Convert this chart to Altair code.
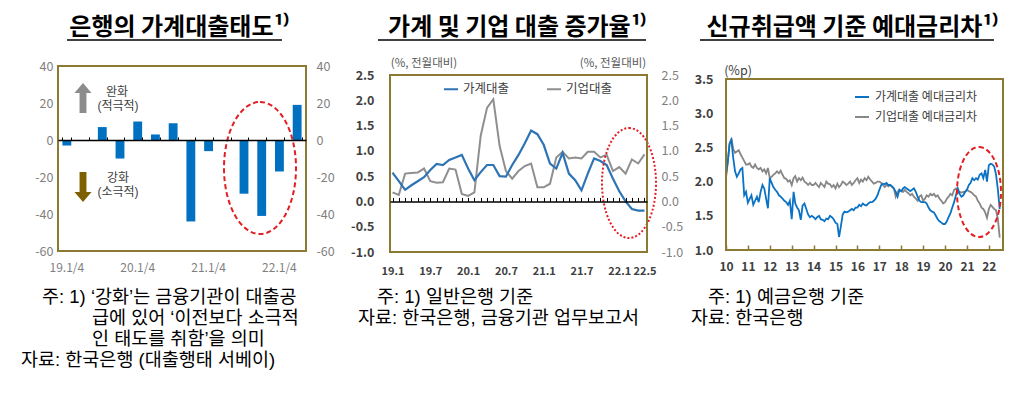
import altair as alt
import pandas as pd

FONT = "Noto Sans CJK KR"
NOTE_FONT = "Liberation Sans, Noto Sans CJK KR"
FRAME = "#8D7A32"
BAR_BLUE = "#0070C0"
BLUE2 = "#2E74B5"
GRAY2 = "#8F8F8F"
BLUE3 = "#0A72C4"
GRAY3 = "#878787"
RED = "#E31E24"
LBL = "#404040"
LBL_GRAY = "#7F7F7F"
H = 186
MINUS_FIX = "replace(datum.label, '\u2212', '-')"

# ---------------- Panel 1 data: 은행의 가계대출태도 ----------------
quarters = ["19.1/4", "19.2/4", "19.3/4", "19.4/4", "20.1/4", "20.2/4", "20.3/4",
            "20.4/4", "21.1/4", "21.2/4", "21.3/4", "21.4/4", "22.1/4", "22.2/4"]
attitude = [-3, 0, 7, -10, 10, 3, 9, -44, -6, 0, -29, -41, -17, 19]
q_ticks = ["19.1/4", "20.1/4", "21.1/4", "22.1/4"]
p1_yticks = [-60, -40, -20, 0, 20, 40]

# ---------------- Panel 2 data: 가계 및 기업 대출 증가율 ----------------
months2 = [f"{y}.{m}" for y in (19, 20, 21, 22) for m in range(1, 13)][:41]
household2 = [0.57, 0.40, 0.23, 0.32, 0.40, 0.48, 0.62, 0.74, 0.72, 0.82,
              0.87, 0.92, 0.65, 0.42, 0.58, 0.72, 0.72, 0.50, 0.49, 0.72,
              0.92, 1.15, 1.40, 1.33, 1.12, 0.75, 0.65, 0.96, 0.55, 0.42,
              0.22, 0.55, 0.85, 0.80, 0.72, 0.45, 0.20, 0.00, -0.15, -0.18,
              -0.18]
corporate2 = [0.18, 0.13, 0.55, 0.56, 0.57, 0.65, 0.40, 0.37, 0.38, 0.65,
              0.63, 0.15, 0.11, 0.18, 1.30, 1.85, 2.02, 1.10, 0.60, 0.45,
              0.60, 0.70, 0.75, 0.28, 0.28, 0.35, 0.87, 0.98, 0.85, 0.87,
              0.85, 0.98, 0.98, 0.87, 0.92, 0.60, 0.68, 0.55, 0.83, 0.75,
              0.93]
m2_ticks = ["19.1", "19.7", "20.1", "20.7", "21.1", "21.7", "22.1", "22.5"]
p2_yticks = [-1.0, -0.5, 0.0, 0.5, 1.0, 1.5, 2.0, 2.5]

# ---------------- Panel 3 data: 신규취급액 기준 예대금리차 ----------------
household3 = [
    2.10, 2.30, 2.55, 2.61, 2.35, 2.15, 2.07, 2.12, 2.18, 2.20, 1.80, 1.85,  # 2010
    1.69, 1.75, 1.80, 1.66, 1.72, 1.78, 1.70, 1.85, 1.95, 1.90, 1.75, 1.61,  # 2011
    2.05, 1.98, 1.92, 1.88, 1.85, 1.80, 1.78, 1.75, 1.72, 1.70, 1.66, 1.72,  # 2012
    1.45, 1.85, 1.68, 1.62, 1.58, 1.44, 1.65, 1.68, 1.60, 1.52, 1.48, 1.50,  # 2013
    1.48, 1.45, 1.48, 1.50, 1.45, 1.44, 1.42, 1.46, 1.45, 1.50, 1.48, 1.45,  # 2014
    1.40, 1.38, 1.19, 1.35, 1.52, 1.56, 1.55, 1.56, 1.58, 1.60, 1.58, 1.62,  # 2015
    1.62, 1.66, 1.64, 1.68, 1.66, 1.65, 1.68, 1.70, 1.70, 1.72, 1.75, 1.80,  # 2016
    1.88, 1.95, 1.97, 1.96, 1.98, 1.95, 1.95, 1.93, 1.90, 1.85, 1.78, 1.88,  # 2017
    1.86, 1.90, 1.92, 1.90, 1.88, 1.86, 1.88, 1.90, 1.85, 1.78, 1.72, 1.70,  # 2018
    1.70, 1.70, 1.68, 1.62, 1.58, 1.56, 1.55, 1.50, 1.45, 1.42, 1.40, 1.38,  # 2019
    1.38, 1.42, 1.48, 1.54, 1.62, 1.70, 1.80, 1.90, 1.82, 1.78, 1.80, 1.85,  # 2020
    1.88, 1.95, 1.98, 2.05, 2.02, 2.05, 2.03, 2.10, 2.12, 2.05, 2.17, 2.00,  # 2021
    2.24, 2.26, 2.25, 2.22, 2.10, 1.88, 1.60,                                # 2022
]
corporate3 = [
    2.05, 2.30, 2.55, 2.63, 2.48, 2.42, 2.44, 2.46, 2.40, 2.35, 2.30, 2.25,  # 2010
    2.25, 2.27, 2.22, 2.20, 2.25, 2.20, 2.18, 2.20, 2.15, 2.18, 2.12, 2.20,  # 2011
    2.05, 2.07, 2.10, 2.12, 2.15, 2.12, 2.16, 2.10, 2.05, 2.04, 2.00, 2.02,  # 2012
    1.95, 2.05, 2.08, 2.00, 2.05, 2.02, 2.06, 2.00, 1.98, 1.95, 1.98, 1.95,  # 2013
    1.95, 1.98, 1.95, 1.92, 1.98, 1.95, 1.92, 2.00, 1.97, 1.96, 1.92, 1.95,  # 2014
    1.90, 1.97, 1.92, 1.95, 2.00, 1.98, 1.95, 1.97, 2.00, 1.95, 1.98, 2.02,  # 2015
    2.05, 1.98, 2.03, 2.00, 2.05, 2.02, 2.07, 2.03, 2.00, 1.97, 1.98, 2.00,  # 2016
    2.00, 1.98, 1.95, 1.92, 1.95, 1.93, 1.95, 1.92, 1.90, 1.78, 1.85, 1.88,  # 2017
    1.86, 1.85, 1.88, 1.85, 1.83, 1.80, 1.82, 1.78, 1.75, 1.72, 1.78, 1.80,  # 2018
    1.72, 1.75, 1.80, 1.78, 1.82, 1.80, 1.82, 1.78, 1.80, 1.75, 1.72, 1.68,  # 2019
    1.70, 1.75, 1.78, 1.82, 1.80, 1.88, 1.90, 1.83, 1.85, 1.84, 1.85, 1.85,  # 2020
    1.88, 1.86, 1.85, 1.83, 1.80, 1.78, 1.72, 1.68, 1.62, 1.60, 1.55, 1.47,  # 2021
    1.60, 1.66, 1.63, 1.60, 1.58, 1.45, 1.18,                                # 2022
]
years3 = list(range(2010, 2023))
p3_yticks = [1.0, 1.5, 2.0, 2.5, 3.0, 3.5]

dates3 = [f"{2010 + i // 12}/{i % 12 + 1:02d}/01" for i in range(len(household3))]

dummy = pd.DataFrame({"d": [0]})


def txt(text, x, y, size, color="#000000", weight="normal", align="center",
        baseline="middle", font=FONT):
    return alt.Chart(dummy).mark_text(
        text=text, font=font, fontSize=size, color=color, fontWeight=weight,
        align=align, baseline=baseline
    ).encode(x=alt.value(x), y=alt.value(y))


def uline(x1, x2, y):
    return alt.Chart(dummy).mark_rule(color="black", strokeWidth=1.5).encode(
        x=alt.value(x1), x2=alt.value(x2), y=alt.value(y))


def ellipse(cx, cy, w, h, dash):
    a = w / h
    k = 0.5523
    path = (f"M 0 -1 C {k*a:.4f} -1 {a:.4f} {-k} {a:.4f} 0 "
            f"C {a:.4f} {k} {k*a:.4f} 1 0 1 "
            f"C {-k*a:.4f} 1 {-a:.4f} {k} {-a:.4f} 0 "
            f"C {-a:.4f} {-k} {-k*a:.4f} -1 0 -1 Z")
    return alt.Chart(dummy).mark_point(
        shape=path, size=h * h, filled=False, stroke=RED, strokeWidth=2,
        strokeDash=dash, opacity=1
    ).encode(x=alt.value(cx), y=alt.value(cy))


UP = "M 0 -1 L 0.57 -0.33 L 0.23 -0.33 L 0.23 1 L -0.23 1 L -0.23 -0.33 L -0.57 -0.33 Z"
DOWN = "M 0 1 L 0.57 0.33 L 0.23 0.33 L 0.23 -1 L -0.23 -1 L -0.23 0.33 L -0.57 0.33 Z"


def arrow(shape, x, y, color):
    return alt.Chart(dummy).mark_point(
        shape=shape, size=900, filled=True, color=color, opacity=1, strokeWidth=0
    ).encode(x=alt.value(x), y=alt.value(y))


def frame(w, top, bottom):
    return alt.Chart(dummy).mark_rect(
        fill="transparent", stroke=FRAME, strokeWidth=2
    ).encode(x=alt.value(0), x2=alt.value(w),
             y=alt.YDatum(top, axis=None), y2=alt.Y2Datum(bottom))


def note(text, x, y):
    return txt(text, x, y, NOTE_SIZE, "#000000", align="left", font=NOTE_FONT)


TITLE_SIZE = 24
TITLE_Y = -31
ULINE_Y = -26
NOTE_SIZE = 18.5
NOTE_Y = [231, 252, 273, 294]

# ======================= Panel 1 =======================
W1, W1F = 253, 248
df1 = pd.DataFrame({"q": quarters, "v": attitude})
x1_scale = alt.Scale(range=[0, W1F], paddingInner=0.5, paddingOuter=0.25)
y1_scale = alt.Scale(domain=[-60.5, 40], nice=False, zero=False)

bars = alt.Chart(df1).mark_bar(color=BAR_BLUE).encode(
    x=alt.X("q:N", sort=quarters, scale=x1_scale,
            axis=alt.Axis(values=q_ticks, title=None, labelAngle=0, ticks=False,
                          tickSize=0, domain=False, labelPadding=10,
                          labelColor=LBL_GRAY, labelFont=FONT, labelFontSize=12)),
    y=alt.Y("v:Q", scale=y1_scale,
            axis=alt.Axis(values=p1_yticks, orient="left", title=None, ticks=False,
                          tickSize=0, domain=False, grid=False, labelPadding=5,
                          labelExpr=MINUS_FIX,
                          labelColor=LBL_GRAY, labelFont=FONT, labelFontSize=12.5)),
)
axis1 = alt.Chart(df1).mark_bar(opacity=0).encode(
    x=alt.X("q:N", sort=quarters, scale=x1_scale,
            axis=alt.Axis(orient="top", offset=-H * 40 / 100.5, labels=False,
                          title=None, tickBand="extent", tickSize=3,
                          tickColor="black", domainColor="black", domainWidth=1.5,
                          tickWidth=1, zindex=1)),
    y=alt.Y("v:Q", scale=y1_scale,
            axis=alt.Axis(values=p1_yticks, orient="right", title=None, ticks=False,
                          tickSize=0, domain=False, grid=False, labelPadding=5,
                          labelExpr=MINUS_FIX,
                          labelColor=LBL_GRAY, labelFont=FONT, labelFontSize=12.5)),
)

panel1 = alt.layer(
    bars, axis1,
    arrow(UP, 25, 32, "#8C8C8C"),
    arrow(DOWN, 25, 121, "#7F6000"),
    txt("완화", 59, 26, 12, LBL, font=NOTE_FONT),
    txt("(적극적)", 60, 40, 12, LBL, font=NOTE_FONT),
    txt("강화", 60, 112, 12, LBL, font=NOTE_FONT),
    txt("(소극적)", 60, 126, 12, LBL, font=NOTE_FONT),
    ellipse(202, 102, 72, 132, [5, 3]),
    frame(W1F, 40, -60),
    txt("은행의 가계대출태도¹⁾", 121, TITLE_Y, TITLE_SIZE, "#000000", "bold", baseline="alphabetic"),
    uline(9, 224, ULINE_Y),
    note("주: 1) ‘강화’는 금융기관이 대출공", -16, NOTE_Y[0]),
    note("급에 있어 ‘이전보다 소극적", 34, NOTE_Y[1]),
    note("인 태도를 취함’을 의미", 34, NOTE_Y[2]),
    note("자료: 한국은행 (대출행태 서베이)", -37, NOTE_Y[3]),
).resolve_axis(x="independent", y="independent").properties(width=W1, height=H)

# ======================= Panel 2 =======================
W2 = 257
P2_TOP = 2.5 + 9 * 3.5 / 177
df2_h = pd.DataFrame({"m": months2, "v": household2, "s": "가계대출"})
df2_c = pd.DataFrame({"m": months2, "v": corporate2, "s": "기업대출"})
x2_scale = alt.Scale(padding=0.4)
y2_scale = alt.Scale(domain=[-1.0, P2_TOP], nice=False, zero=False)
col2 = alt.Color("s:N", scale=alt.Scale(domain=["가계대출", "기업대출"], range=[BLUE2, GRAY2]),
                 legend=alt.Legend(orient="none", legendX=53, legendY=15,
                                   direction="horizontal", title=None,
                                   symbolType="stroke", symbolStrokeWidth=2,
                                   symbolSize=196, labelFont=FONT, labelFontSize=12.5,
                                   labelColor=LBL, columnPadding=33, labelOffset=4,
                                   padding=0))
x2_bottom = alt.X("m:O", sort=months2, scale=x2_scale,
                  axis=alt.Axis(values=m2_ticks, title=None, labelAngle=0, ticks=False,
                                tickSize=0, domain=False, labelPadding=13,
                                labelColor=LBL, labelFont=FONT, labelFontSize=11,
                                labelFontWeight="bold"))
y2_left = alt.Y("v:Q", scale=y2_scale,
                axis=alt.Axis(values=p2_yticks, format=".1f", orient="left", title=None,
                              ticks=False, tickSize=0, domain=False, grid=False,
                              labelExpr=MINUS_FIX,
                              labelPadding=16, labelColor=LBL, labelFont=FONT,
                              labelFontSize=12.5, labelFontWeight="bold"))

line2_c = alt.Chart(df2_c).mark_line(strokeWidth=2).encode(x=x2_bottom, y=y2_left, color=col2)
line2_h = alt.Chart(df2_h).mark_line(strokeWidth=2.2).encode(
    x=alt.X("m:O", sort=months2, scale=x2_scale, axis=None),
    y=alt.Y("v:Q", scale=y2_scale, axis=None), color=col2)
axis2 = alt.Chart(df2_h).mark_line(opacity=0).encode(
    x=alt.X("m:O", sort=months2, scale=x2_scale,
            axis=alt.Axis(orient="top", offset=-H * P2_TOP / (P2_TOP + 1.0), labels=False,
                          title=None, tickSize=4, tickColor="black", tickWidth=1,
                          domainColor="black", domainWidth=1.5, zindex=1)),
    y=alt.Y("v:Q", scale=y2_scale,
            axis=alt.Axis(values=p2_yticks, format=".1f", orient="right", title=None,
                          ticks=False, tickSize=0, domain=False, grid=False,
                          labelExpr=MINUS_FIX,
                          labelPadding=14, labelColor=LBL_GRAY, labelFont=FONT,
                          labelFontSize=12.5)),
)

panel2 = alt.layer(
    axis2, line2_c, line2_h,
    txt("(%, 전월대비)", 34, -2, 11.5, "#595959"),
    txt("(%, 전월대비)", 223, -2, 11.5, "#595959"),
    ellipse(239, 117, 54, 110, [2, 2]),
    frame(W2, 2.5, -1.0),
    txt("가계 및 기업 대출 증가율¹⁾", 127, TITLE_Y, TITLE_SIZE, "#000000", "bold", baseline="alphabetic"),
    uline(-12, 256, ULINE_Y),
    note("주: 1) 일반은행 기준", -13, NOTE_Y[0]),
    note("자료: 한국은행, 금융기관 업무보고서", -32, NOTE_Y[1]),
).resolve_axis(x="independent", y="independent").properties(width=W2, height=H)

# ======================= Panel 3 =======================
W3 = 277
P3_TOP = 3.5 + 13 * 2.5 / 171
P3_BOT = 1.0 - 2 * 2.5 / 171
df3_h = pd.DataFrame({"date": dates3, "v": household3, "s": "가계대출 예대금리차"})
df3_c = pd.DataFrame({"date": dates3, "v": corporate3, "s": "기업대출 예대금리차"})
x3_scale = alt.Scale(domain=[alt.DateTime(year=2010, month=1, date=1),
                             alt.DateTime(year=2022, month=8, date=25)])
y3_scale = alt.Scale(domain=[P3_BOT, P3_TOP], nice=False, zero=False)
col3 = alt.Color("s:N", scale=alt.Scale(domain=["가계대출 예대금리차", "기업대출 예대금리차"],
                                        range=[BLUE3, GRAY3]),
                 legend=alt.Legend(orient="none", legendX=128, legendY=23,
                                   direction="vertical", title=None,
                                   symbolType="stroke", symbolStrokeWidth=2,
                                   symbolSize=196, labelFont=FONT, labelFontSize=12,
                                   labelColor=LBL, rowPadding=6, labelOffset=5,
                                   padding=0))
line3_c = alt.Chart(df3_c).mark_line(strokeWidth=1.8).encode(
    x=alt.X("date:T", scale=x3_scale,
            axis=alt.Axis(values=[alt.DateTime(year=y, month=1, date=1) for y in years3],
                          format="%y", title=None, offset=-7, tickSize=5,
                          tickColor=FRAME, tickWidth=1.5, domain=False, grid=False,
                          labelPadding=11, labelFlush=False, labelOverlap=False,
                          labelColor=LBL, labelFont=FONT, labelFontSize=12,
                          labelFontWeight="bold")),
    y=alt.Y("v:Q", scale=y3_scale,
            axis=alt.Axis(values=p3_yticks, format=".1f", title=None, ticks=False,
                          tickSize=0, domain=False, grid=False, labelPadding=13,
                          labelColor=LBL, labelFont=FONT, labelFontSize=12.5,
                          labelFontWeight="bold")),
    color=col3,
)
line3_h = alt.Chart(df3_h).mark_line(strokeWidth=1.8).encode(
    x=alt.X("date:T", scale=x3_scale, axis=None),
    y=alt.Y("v:Q", scale=y3_scale, axis=None),
    color=col3,
)

panel3 = alt.layer(
    line3_c, line3_h,
    txt("(%p)", 12, 5, 12.5, LBL),
    ellipse(253, 126, 44, 90, [5, 3]),
    frame(W3, 3.5, 1.0),
    txt("신규취급액 기준 예대금리차¹⁾", 126, TITLE_Y, TITLE_SIZE, "#000000", "bold", baseline="alphabetic"),
    uline(-26, 268, ULINE_Y),
    note("주: 1) 예금은행 기준", -18, NOTE_Y[0]),
    note("자료: 한국은행", -35, NOTE_Y[1]),
).resolve_axis(x="independent", y="independent").properties(width=W3, height=H)

chart = alt.hconcat(panel1, panel2, panel3, spacing=79, bounds="flush").resolve_scale(
    color="independent"
).properties(
    padding={"left": 12, "top": 7, "right": 4, "bottom": 4},
    background="white",
).configure_view(stroke="transparent")

chart.save("out.html", embed_options={"renderer": "svg", "actions": False})
